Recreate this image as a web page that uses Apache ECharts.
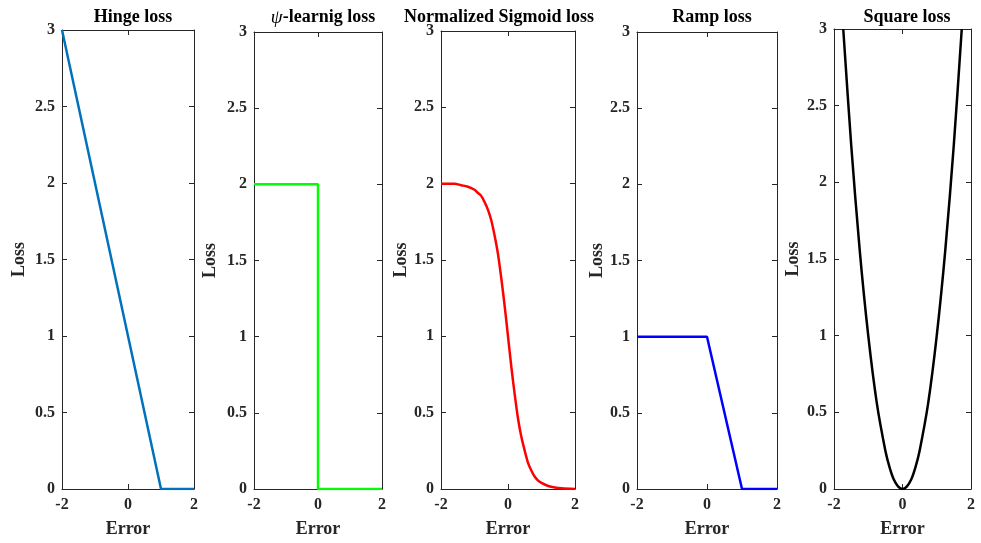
<!DOCTYPE html>
<html>
<head>
<meta charset="utf-8">
<script src="https://cdn.jsdelivr.net/npm/echarts@6/dist/echarts.min.js"></script>
<style>
  html, body { margin: 0; padding: 0; background: #fff; }
  #chart { width: 981px; height: 543px; }
</style>
</head>
<body>
<div id="chart"></div>
<script>
// Loss curves, each sampled as [error, loss] pairs
const hingeLoss = [[-2, 3], [1, 0], [2, 0]];
const psiLoss = [[-2, 2], [0, 2], [0, 0], [2, 0]];
const sigmoidX = [-2, -1.6, -1.4, -1.2, -1.0, -0.9, -0.8, -0.7, -0.6, -0.5, -0.4, -0.3, -0.2, -0.1, 0, 0.1, 0.2, 0.3, 0.4, 0.5, 0.6, 0.7, 0.8, 0.9, 1.0, 1.2, 1.4, 1.6, 2.0];
const sigmoidY = [2.00, 2.00, 1.99, 1.98, 1.96, 1.94, 1.92, 1.88, 1.83, 1.76, 1.66, 1.54, 1.38, 1.20, 1.00, 0.80, 0.62, 0.46, 0.34, 0.25, 0.17, 0.12, 0.08, 0.055, 0.04, 0.02, 0.01, 0.005, 0.00];
const rampLoss = [[-2, 1], [0, 1], [1, 0], [2, 0]];
const squareX = [-1.73, -1.5, -1.25, -1.0, -0.75, -0.5, -0.375, -0.25, -0.125, 0, 0.125, 0.25, 0.375, 0.5, 0.75, 1.0, 1.25, 1.5, 1.73];
const squareY = [3.0, 2.25, 1.56, 1.0, 0.56, 0.25, 0.14, 0.06, 0.016, 0, 0.016, 0.06, 0.14, 0.25, 0.56, 1.0, 1.56, 2.25, 3.0];

const xTicks = [-2, 0, 2];
const yTicks = [0, 0.5, 1, 1.5, 2, 2.5, 3];

const titles = ['Hinge loss', '{i|ψ}-learnig loss', 'Normalized Sigmoid loss', 'Ramp loss', 'Square loss'];
const xName = 'Error';
const yName = 'Loss';

const zip = (xs, ys) => xs.map((x, i) => [x, ys[i]]);
const curves = [hingeLoss, psiLoss, zip(sigmoidX, sigmoidY), rampLoss, zip(squareX, squareY)];
const colors = ['#0072BD', '#00FF00', '#FF0000', '#0000FF', '#000000'];
const smoothCurve = [false, false, true, false, true];

// panel boxes: left, top, width, height
const boxes = [
  [62, 30, 132, 463],
  [254, 32, 128, 462],
  [441, 31, 134, 463],
  [637, 32, 140, 463],
  [834, 29, 137, 467]
];
const yNameGap = [34, 35, 31, 30, 32];
const titleCenters = [128, 318, 494, 707, 902];

const FONT = '"Liberation Serif", "Times New Roman", serif';
const AX = '#262626';

const grid = [], xAxis = [], yAxis = [], series = [], title = [];

boxes.forEach((b, i) => {
  grid.push({ left: b[0], top: b[1], width: b[2], height: b[3] });
  const common = {
    axisLine: { show: true, onZero: false, lineStyle: { color: AX, width: 1 } },
    axisTick: { show: true, inside: true, length: 5, lineStyle: { color: AX } },
    splitLine: { show: false }
  };
  // bottom and top x axes
  xAxis.push(Object.assign({}, common, {
    type: 'value', gridIndex: i, position: 'bottom', min: xTicks[0], max: xTicks[xTicks.length - 1], interval: 2,
    axisLabel: { color: AX, fontFamily: FONT, fontWeight: 'bold', fontSize: 16, margin: 8 },
    name: xName, nameLocation: 'middle', nameGap: 31,
    nameTextStyle: { color: AX, fontFamily: FONT, fontWeight: 'bold', fontSize: 18 }
  }));
  xAxis.push(Object.assign({}, common, {
    type: 'value', gridIndex: i, position: 'top', min: xTicks[0], max: xTicks[xTicks.length - 1], interval: 2,
    axisLabel: { show: false }
  }));
  // left and right y axes
  yAxis.push(Object.assign({}, common, {
    type: 'value', gridIndex: i, position: 'left', min: yTicks[0], max: yTicks[yTicks.length - 1], interval: 0.5,
    axisLabel: { color: AX, fontFamily: FONT, fontWeight: 'bold', fontSize: 16, margin: 7 },
    name: yName, nameLocation: 'middle', nameGap: yNameGap[i], nameRotate: 90,
    nameTextStyle: { color: AX, fontFamily: FONT, fontWeight: 'bold', fontSize: 18 }
  }));
  yAxis.push(Object.assign({}, common, {
    type: 'value', gridIndex: i, position: 'right', min: yTicks[0], max: yTicks[yTicks.length - 1], interval: 0.5,
    axisLabel: { show: false }
  }));
  series.push({
    type: 'line', xAxisIndex: 2 * i, yAxisIndex: 2 * i, data: curves[i],
    showSymbol: false, smooth: smoothCurve[i] ? 0.3 : false, clip: true,
    lineStyle: { color: colors[i], width: 2.5 }, itemStyle: { color: colors[i] },
    animation: false
  });
  title.push({
    text: titles[i], left: titleCenters[i], top: 3, textAlign: 'center',
    textStyle: {
      color: '#000', fontFamily: FONT, fontWeight: 'bold', fontSize: 18,
      rich: { i: { fontFamily: FONT, fontStyle: 'italic', fontWeight: 'normal', fontSize: 19, color: '#000' } }
    }
  });
});

const chart = echarts.init(document.getElementById('chart'), null, { renderer: 'canvas' });
chart.setOption({ animation: false, backgroundColor: '#fff', title, grid, xAxis, yAxis, series });
</script>
</body>
</html>
